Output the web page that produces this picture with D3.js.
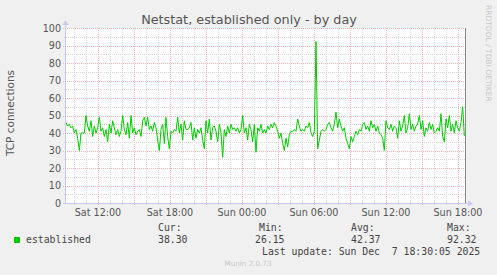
<!DOCTYPE html>
<html><head><meta charset="utf-8">
<script src="https://cdn.jsdelivr.net/npm/d3@7"></script>
<style>
html,body{margin:0;padding:0;background:#f0f0f0;}
svg{display:block;}
text{font-family:"DejaVu Sans",sans-serif;}
.mono{font-family:"DejaVu Sans Mono",monospace;white-space:pre;}
</style></head><body>
<svg id="c" width="497" height="275"></svg>
<script>
// ---- data ----
const title = "Netstat, established only - by day";
const yLabel = "TCP connections";
const seriesName = "established";
const startTime = new Date(2025, 11, 6, 9, 20, 0);
const endTime = new Date(2025, 11, 7, 18, 40, 0);
const sampleSeconds = 500;
const established = [
 46,44,45,43,44,40,42,37,30,40, 40,40,50,44,41,47,38,44,40,43,
 49,41,43,38,42,35,45,40,47,43, 39,42,38,41,50,42,39,46,37,50,
 40,43,39,41,42,38,47,49,44,49, 42,44,41,46,43,36,30,42,45,34,
 49,38,31,41,40,42,41,49,40,45, 36,47,42,42,43,46,36,43,37,42,
 40,43,36,31,47,40,48,36,43,44, 41,35,45,40,26.15,42,38,44,40,45,
 42,43,41,43,40,42,50,40,43,36, 45,42,35,45,29,43,41,45,40,42,
 40,44,42,45,43,46,44,41,37,40, 34,30,37,32,39,41,41,42,41,48,
 44,41,42,41,44,43,46,40,38,41, 92.32,31,36,41,42,41,42,45,46,43,
 41,45,52,43,48,44,41,43,37,34, 31,38,35,38,41,39,42,41,45,46,
 42,44,41,47,43,45,41,44,40,39, 37,30,47,43,42,45,41,44,43,37,
 47,41,44,50,40,43,51,42,45,41, 44,45,50,42,47,38,43,41,46,42,
 45,40,41,43,41,51,38,35,48,43, 50,41,45,40,47,43,41,46,55,38.30
];
const yTicks = [0,10,20,30,40,50,60,70,80,90,100];
const yMinor = [5,15,25,35,45,55,65,75,85,95];
const xLabelTimes = [
 new Date(2025,11,6,12,0), new Date(2025,11,6,18,0), new Date(2025,11,7,0,0),
 new Date(2025,11,7,6,0), new Date(2025,11,7,12,0), new Date(2025,11,7,18,0)
];
const xLabels = ["Sat 12:00","Sat 18:00","Sun 00:00","Sun 06:00","Sun 12:00","Sun 18:00"];
const statHeads = ["Cur:","Min:","Avg:","Max:"];
const statVals = ["38.30","26.15","42.37","92.32"];
const lastUpdate = "Last update: Sun Dec  7 18:30:05 2025";
const footer = "Munin 2.0.73";
const sideText = "RRDTOOL / TOBI OETIKER";

// ---- layout ----
const L = 66, R = 466, T = 28, B = 203;
const svg = d3.select("#c");
const x = d3.scaleTime().domain([startTime, endTime]).range([L, R]);
const y = d3.scaleLinear().domain([0, 100]).range([B, T]);

svg.append("rect").attr("x", L).attr("y", T).attr("width", R - L - 1).attr("height", B - T).attr("fill", "#fff");

const hours = d3.timeHour.every(1).range(startTime, endTime).filter(d => d.getHours() % 3 !== 0);
const majors = d3.timeHour.every(1).range(startTime, endTime).filter(d => d.getHours() % 3 === 0);
const g = svg.append("g");
const minorCol = "#d6d6d6", majorCol = "#f2b4b4";
g.selectAll(".vmin").data(hours).join("line")
 .attr("x1", d => Math.round(x(d)) + 0.5).attr("x2", d => Math.round(x(d)) + 0.5)
 .attr("y1", T).attr("y2", B + 2).attr("stroke", minorCol).attr("stroke-dasharray", "1,1");
g.selectAll(".hmin").data(yMinor).join("line")
 .attr("x1", L - 2).attr("x2", R - 1).attr("y1", d => Math.round(y(d)) + 0.5).attr("y2", d => Math.round(y(d)) + 0.5)
 .attr("stroke", minorCol).attr("stroke-dasharray", "1,1");
g.selectAll(".vmaj").data(majors).join("line")
 .attr("x1", d => Math.round(x(d)) + 0.5).attr("x2", d => Math.round(x(d)) + 0.5)
 .attr("y1", T).attr("y2", B + 3).attr("stroke", majorCol).attr("stroke-dasharray", "1,1");
g.selectAll(".hmaj").data(yTicks.filter(v => v > 0)).join("line")
 .attr("x1", L - 3).attr("x2", R - 1).attr("y1", d => Math.round(y(d)) + 0.5).attr("y2", d => Math.round(y(d)) + 0.5)
 .attr("stroke", majorCol).attr("stroke-dasharray", "1,1");

// data line
const pts = established.map((v, i) => ({t: new Date(startTime.getTime() + i * sampleSeconds * 1000), v}));
svg.append("path").datum(pts)
 .attr("fill", "none").attr("stroke", "#00cc00").attr("stroke-width", 1)
 .attr("d", d3.line().x(d => x(d.t)).y(d => y(d.v)));

// axes
svg.append("line").attr("x1", L - 0.5).attr("x2", L - 0.5).attr("y1", B + 1).attr("y2", T - 4).attr("stroke", "#c8c8f0");
svg.append("line").attr("x1", L - 3).attr("x2", R + 3).attr("y1", B + 0.5).attr("y2", B + 0.5).attr("stroke", "#c8c8f0");
svg.append("path").attr("d", `M${L - 3.5},${T - 3}L${L + 2.5},${T - 3}L${L - 0.5},${T - 8}Z`).attr("fill", "#c8c8f0");
svg.append("path").attr("d", `M${R + 2},${B - 2.5}L${R + 2},${B + 3.5}L${R + 7},${B + 0.5}Z`).attr("fill", "#c8c8f0");
svg.append("line").attr("x1", R - 0.5).attr("x2", R - 0.5).attr("y1", T).attr("y2", B).attr("stroke", "#888");

// y tick labels
svg.selectAll(".yl").data(yTicks).join("text")
 .attr("x", 61).attr("y", d => y(d) + 3.5).attr("text-anchor", "end")
 .attr("font-size", "9.6px").attr("fill", "#555").text(d => d);
// x tick labels
svg.selectAll(".xl").data(xLabelTimes).join("text")
 .attr("x", d => x(d)).attr("y", 216).attr("text-anchor", "middle")
 .attr("font-size", "9.6px").attr("fill", "#555").text((d, i) => xLabels[i]);

// title
svg.append("text").attr("x", 249).attr("y", 24).attr("text-anchor", "middle")
 .attr("font-size", "12.8px").attr("fill", "#555").text(title);
// y label
svg.append("text").attr("transform", "translate(14,113) rotate(-90)").attr("text-anchor", "middle")
 .attr("font-size", "10.5px").attr("fill", "#555").text(yLabel);
// side text
svg.append("text").attr("transform", "translate(486,5) rotate(90)").attr("text-anchor", "start")
 .attr("font-size", "7.5px").attr("fill", "#c8c8c8").text(sideText);

// legend
svg.append("rect").attr("x", 14).attr("y", 237).attr("width", 6).attr("height", 6).attr("fill", "#00cc00");
svg.append("text").attr("class", "mono").attr("x", 26).attr("y", 243).attr("font-size", "9.8px").attr("fill", "#444").text(seriesName);
const headX = [158, 259, 351, 447];
const valX = [158, 255, 351, 447];
svg.selectAll(".sh").data(statHeads).join("text").attr("class", "mono")
 .attr("x", (d, i) => headX[i]).attr("y", 231).attr("font-size", "9.8px").attr("fill", "#444").text(d => d);
svg.selectAll(".sv").data(statVals).join("text").attr("class", "mono")
 .attr("x", (d, i) => valX[i]).attr("y", 243).attr("font-size", "9.8px").attr("fill", "#444").text(d => d);
svg.append("text").attr("class", "mono").attr("x", 262).attr("y", 255).attr("font-size", "9.8px").attr("fill", "#444").text(lastUpdate);
svg.append("text").attr("x", 248).attr("y", 266).attr("text-anchor", "middle")
 .attr("font-size", "7.2px").attr("fill", "#c8c8c8").text(footer);
</script>
</body></html>
